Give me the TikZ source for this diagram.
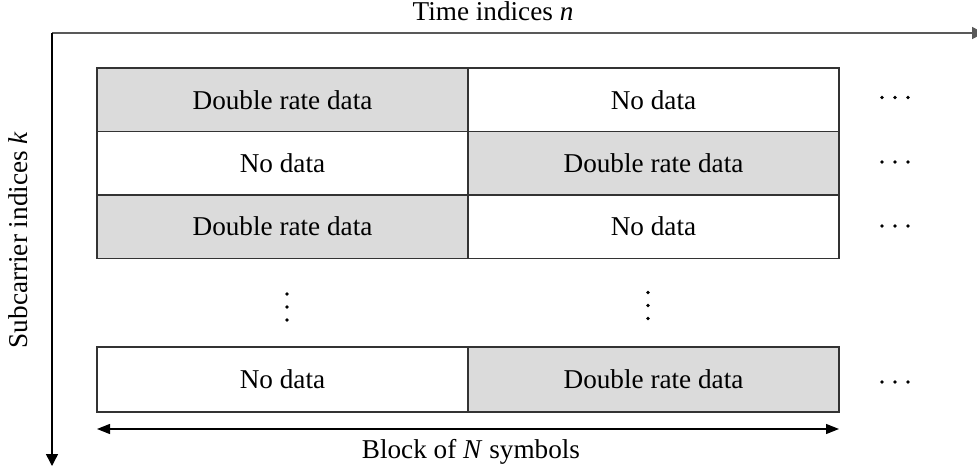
\documentclass[tikz,border=0pt]{standalone}
\usepackage{fontspec}
\setmainfont{Liberation Serif}
\usetikzlibrary{arrows.meta}

\tikzset{
  cellbox/.style={draw=black!80, line width=1.4pt, inner sep=0pt, outer sep=0pt,
    minimum width=371pt, minimum height=63.4pt,
    font=\fontsize{27.2}{32}\selectfont},
  filled/.style={cellbox, fill=black!14},
  plain/.style={cellbox, fill=white},
  axislabel/.style={font=\fontsize{27.2}{32}\selectfont, inner sep=0pt},
  axisarrow/.style={line width=1.4pt, -{Triangle[length=12pt, width=12pt]}},
  spanarrow/.style={line width=1.3pt, {Triangle[length=13pt, width=10pt]}-{Triangle[length=13pt, width=10pt]}},
  dot/.style={fill=black, draw=none}
}

\begin{document}
\begin{tikzpicture}[x=1pt, y=-1pt]
  \clip (0,0) rectangle (977,472);
  \fill[white] (0,0) rectangle (977,472);

  % axes
  \coordinate (origin) at (52,33);
  \coordinate (timeEnd) at (984,33);
  \coordinate (subEnd) at (52,466);
  \draw[axisarrow, draw=black!65] (origin) -- (timeEnd);
  \draw[axisarrow, draw=black] (origin) -- (subEnd);

  \node[axislabel] (timeLabel) at (493,11) {Time indices \textit{n}};
  \node[axislabel, rotate=90] (subLabel) at (18,240) {Subcarrier indices \textit{k}};

  % grid of data blocks
  \node[filled] (r1a) at (282.5,99.7)  {Double rate data};
  \node[plain]  (r1b) at (653.5,99.7)  {No data};
  \node[plain]  (r2a) at (282.5,163.1) {No data};
  \node[filled] (r2b) at (653.5,163.1) {Double rate data};
  \node[filled] (r3a) at (282.5,226.5) {Double rate data};
  \node[plain]  (r3b) at (653.5,226.5) {No data};
  \node[plain,  minimum height=65pt] (r4a) at (282.5,379.5) {No data};
  \node[filled, minimum height=65pt] (r4b) at (653.5,379.5) {Double rate data};

  % vertical ellipses
  \foreach \yy in {294,307,320} {
    \fill[dot] (287,\yy) circle (1.9pt);
  }
  \foreach \yy in {292.5,305.5,318.5} {
    \fill[dot] (648,\yy) circle (1.9pt);
  }

  % horizontal ellipses to the right of each row
  \foreach \yy in {97.5,162,226,382} {
    \foreach \xx in {882,895,908} {
      \fill[dot] (\xx,\yy) circle (1.8pt);
    }
  }

  % block span
  \draw[spanarrow] ([yshift=-17pt]r4a.south west) -- ([yshift=-17pt]r4b.south east);
  \node[axislabel] (blockLabel) at (471,452) {Block of \textit{N} symbols};
\end{tikzpicture}
\end{document}
